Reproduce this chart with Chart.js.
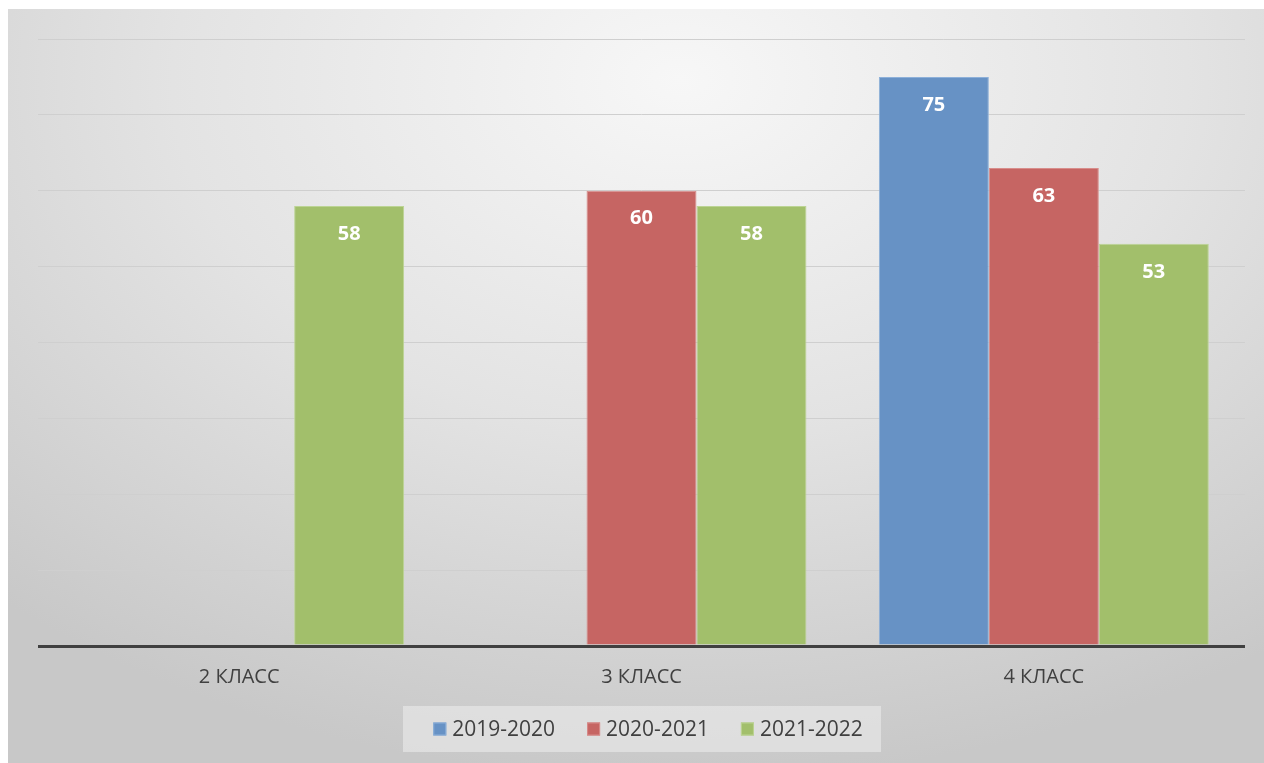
<!DOCTYPE html>
<html>
<head>
<meta charset="utf-8">
<script src="https://cdn.jsdelivr.net/npm/chart.js@4"></script>
<style>
html,body{margin:0;padding:0;background:#fff;}
canvas{display:block;}
</style>
</head>
<body>
<canvas id="c" width="1264" height="763" style="width:1264px;height:763px"></canvas>
<script>
const categories = ['2 КЛАСС', '3 КЛАСС', '4 КЛАСС'];
const seriesNames = ['2019-2020', '2020-2021', '2021-2022'];
const s2019 = [null, null, 75];
const s2020 = [null, 60, 63];
const s2021 = [58, 58, 53];
const yMax = 80;
const yStep = 10;

const colors = ['#6792c5', '#c66563', '#a2bf6b'];
const borders = ['#8db0d9', '#d88d8b', '#bcd494'];
const FONT = '"Open Sans", "Noto Sans", sans-serif';

const bgPlugin = {
  id: 'bg',
  beforeDraw(chart) {
    const ctx = chart.ctx;
    const W = chart.width, H = chart.height;
    ctx.save();
    ctx.fillStyle = '#ffffff';
    ctx.fillRect(0, 0, W, H);
    ctx.save();
    ctx.translate(680, 80);
    ctx.scale(1.45, 1);
    const g = ctx.createRadialGradient(0, 0, 0, 0, 0, 700);
    g.addColorStop(0, '#f7f7f7');
    g.addColorStop(0.5, '#e3e3e3');
    g.addColorStop(1, '#c8c8c8');
    ctx.fillStyle = g;
    ctx.fillRect((8 - 680)/1.45, 9 - 80, (W - 8)/1.45, H - 9);
    ctx.restore();
    // legend background
    ctx.fillStyle = 'rgba(238,238,238,0.55)';
    ctx.fillRect(403, 706, 478, 46);
    ctx.restore();
  },
  afterDatasetsDraw(chart) {
    const ctx = chart.ctx;
    ctx.save();
    ctx.font = 'bold 20px ' + FONT;
    ctx.fillStyle = '#ffffff';
    ctx.textAlign = 'center';
    ctx.textBaseline = 'middle';
    chart.data.datasets.forEach((ds, i) => {
      const meta = chart.getDatasetMeta(i);
      meta.data.forEach((bar, j) => {
        const v = ds.data[j];
        if (v === null || v === undefined) return;
        ctx.fillText(String(v), bar.x, bar.y + 28);
      });
    });
    ctx.restore();
  },
  afterDraw(chart) {
    // legend
    const ctx = chart.ctx;
    ctx.save();
    ctx.font = '21px ' + FONT;
    ctx.textBaseline = 'middle';
    ctx.textAlign = 'left';
    const box = 13, gapBoxText = 6, gapItems = 32;
    const ds = chart.data.datasets;
    const widths = ds.map(d => box + gapBoxText + ctx.measureText(d.label).width);
    const total = widths.reduce((a, b) => a + b, 0) + gapItems * (ds.length - 1);
    let x = 648 - total / 2;
    const cy = 729;
    ds.forEach((d, i) => {
      ctx.fillStyle = colors[i];
      ctx.fillRect(x, cy - box/2, box, box);
      ctx.strokeStyle = borders[i];
      ctx.lineWidth = 1;
      ctx.strokeRect(x + 0.5, cy - box/2 + 0.5, box - 1, box - 1);
      ctx.fillStyle = '#404040';
      ctx.fillText(d.label, x + box + gapBoxText, cy + 1);
      x += widths[i] + gapItems;
    });
    ctx.restore();
  }
};

const seriesData = [s2019, s2020, s2021];
new Chart(document.getElementById('c'), {
  type: 'bar',
  data: {
    labels: categories,
    datasets: seriesNames.map((n, i) => ({
      label: n,
      data: seriesData[i],
      backgroundColor: colors[i],
      borderColor: borders[i],
      borderWidth: 1,
      categoryPercentage: 0.82,
      barPercentage: 1.0
    }))
  },
  options: {
    responsive: false,
    animation: false,
    devicePixelRatio: 1,
    layout: { padding: { left: 38, right: 19, top: 39, bottom: 63 } },
    plugins: {
      tooltip: { enabled: false },
      legend: { display: false }
    },
    scales: {
      x: {
        grid: { display: false },
        border: { display: false },
        ticks: {
          color: '#404040',
          padding: 11,
          font: { size: 20, family: FONT }
        }
      },
      y: {
        min: 0,
        max: yMax,
        ticks: { display: false, stepSize: yStep },
        border: { display: false },
        grid: {
          drawTicks: false,
          color: c => c.tick.value === 0 ? '#404040' : '#cfcfcf',
          lineWidth: c => c.tick.value === 0 ? 3 : 1
        }
      }
    }
  },
  plugins: [bgPlugin]
});
</script>
</body>
</html>
